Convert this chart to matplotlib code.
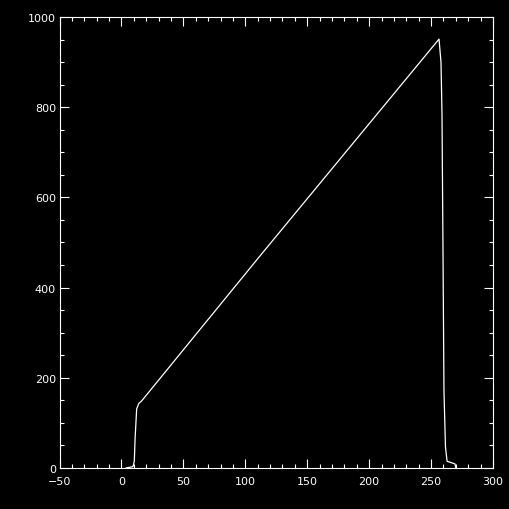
import matplotlib
matplotlib.use("Agg")
import matplotlib.pyplot as plt
from matplotlib.ticker import MultipleLocator

# profile
x_vals = [3.7, 9.3, 10.4, 11.0, 12.3, 14.0, 16.4, 110.3, 256.4,
          258.0, 258.8, 259.6, 260.4, 261.6, 262.9, 269.3, 270.0]
y_vals = [0.0, 3.0, 15.0, 64.0, 131.0, 143.0, 149.0, 465.0, 951.0,
          900.0, 785.0, 486.0, 171.0, 47.0, 15.0, 9.0, 0.0]

x_lim = (-50, 300)
y_lim = (0, 1000)

fig = plt.figure(figsize=(5.09, 5.10), dpi=100, facecolor="black")
ax = fig.add_axes([0.1169, 0.0804, 0.8517, 0.8843], facecolor="black")

ax.plot(x_vals, y_vals, color="white", linewidth=0.9)

ax.set_xlim(*x_lim)
ax.set_ylim(*y_lim)
ax.xaxis.set_major_locator(MultipleLocator(50))
ax.xaxis.set_minor_locator(MultipleLocator(10))
ax.yaxis.set_major_locator(MultipleLocator(200))
ax.yaxis.set_minor_locator(MultipleLocator(50))

for side in ax.spines.values():
    side.set_color("white")
    side.set_linewidth(0.8)

ax.tick_params(which="both", direction="in", top=True, right=True,
               colors="white", width=0.8, labelsize=8)
ax.tick_params(which="major", length=6.5)
ax.tick_params(which="minor", length=3.2)
ax.tick_params(axis="x", pad=6)
ax.tick_params(axis="y", pad=2.5)

fig.savefig("out.png", dpi=100, facecolor="black")
